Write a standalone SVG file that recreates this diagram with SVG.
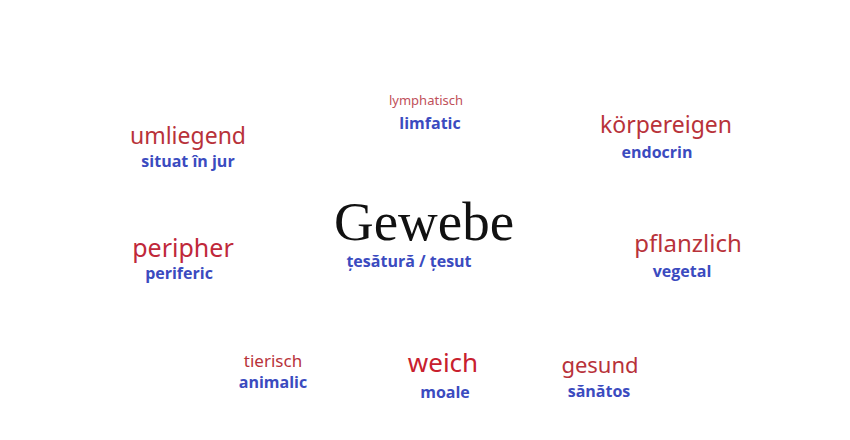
<svg xmlns="http://www.w3.org/2000/svg" width="850" height="440" viewBox="0 0 850 440">
<style>
.de{font-family:"Noto Sans","Open Sans","DejaVu Sans",sans-serif;fill:#b8323a;text-anchor:middle}
.ro{font-family:"Open Sans","Liberation Sans",sans-serif;font-weight:700;fill:#3b4bbf;text-anchor:middle;font-size:16px}
.main{font-family:"Liberation Serif","Times New Roman",serif;fill:#111;text-anchor:middle}
</style>
<rect width="850" height="440" fill="#ffffff"/>
<g id="center">
<text class="main" x="424" y="240" font-size="55">Gewebe</text>
<text class="ro" x="409" y="267">țesătură / țesut</text>
</g>
<g id="umliegend">
<text class="de" x="188" y="144" font-size="23">umliegend</text>
<text class="ro" x="188" y="167">situat în jur</text>
</g>
<g id="lymphatisch">
<text class="de" x="426" y="105" font-size="13" style="fill:#c0505a">lymphatisch</text>
<text class="ro" x="430" y="129">limfatic</text>
</g>
<g id="koerpereigen">
<text class="de" x="666" y="133" font-size="23">körpereigen</text>
<text class="ro" x="657" y="158">endocrin</text>
</g>
<g id="peripher">
<text class="de" x="183" y="257" font-size="25" style="fill:#c0283a">peripher</text>
<text class="ro" x="179" y="279">periferic</text>
</g>
<g id="pflanzlich">
<text class="de" x="688" y="252" font-size="24">pflanzlich</text>
<text class="ro" x="682" y="277">vegetal</text>
</g>
<g id="tierisch">
<text class="de" x="273" y="367" font-size="17">tierisch</text>
<text class="ro" x="273" y="388">animalic</text>
</g>
<g id="weich">
<text class="de" x="443" y="372" font-size="26" style="fill:#c8202e">weich</text>
<text class="ro" x="445" y="398">moale</text>
</g>
<g id="gesund">
<text class="de" x="600" y="373" font-size="22">gesund</text>
<text class="ro" x="599" y="397">sănătos</text>
</g>
</svg>
